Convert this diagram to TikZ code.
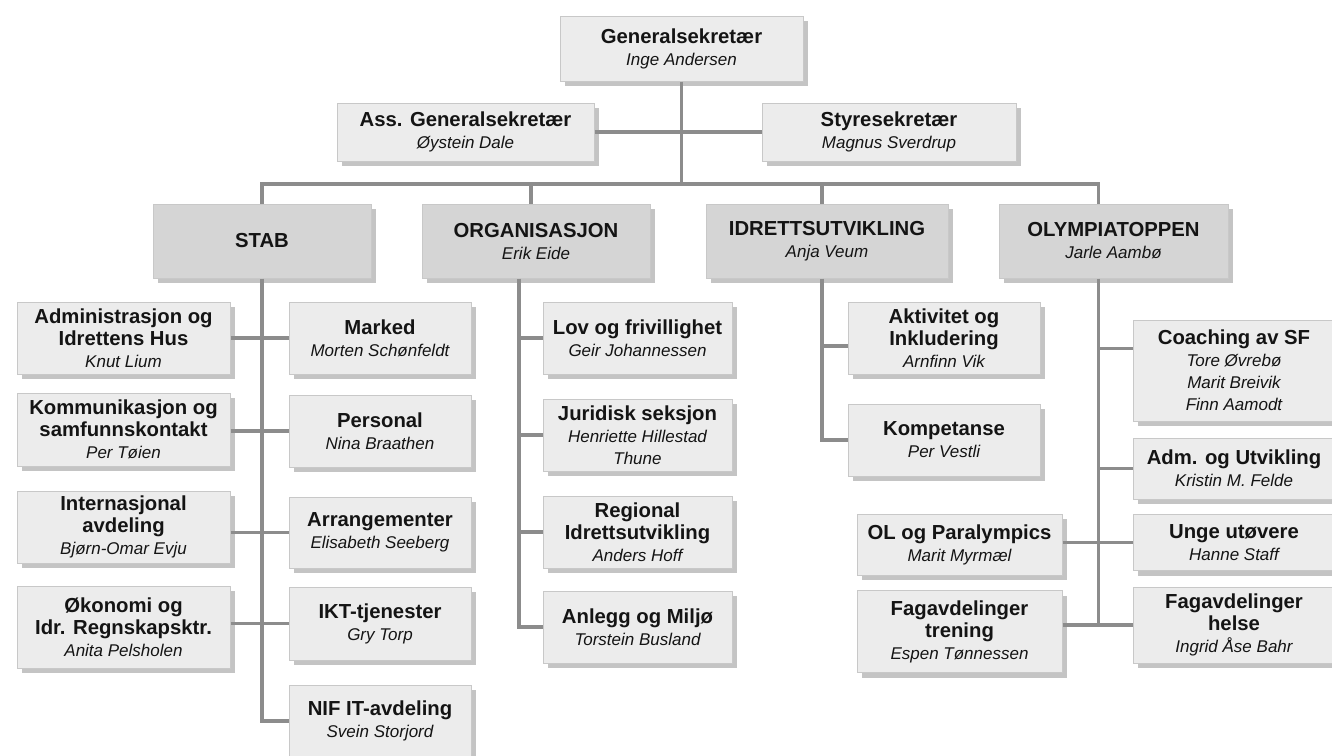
\documentclass[tikz,border=0pt]{standalone}
\usepackage{fontspec}
\setmainfont{Liberation Sans}
\usetikzlibrary{shadows}
\definecolor{boxfill}{HTML}{ECECEC}
\definecolor{deptfill}{HTML}{D5D5D5}
\definecolor{boxline}{HTML}{C8C8C8}
\definecolor{shade}{HTML}{C4C4C4}
\definecolor{linkgray}{HTML}{8C8C8C}
\newcommand\boxtitle{\fontsize{20.3}{22}\selectfont\bfseries}
\newcommand\boxname{\fontsize{17}{22}\selectfont\itshape}
\tikzset{
  unit/.style={draw=boxline, line width=1pt, fill=boxfill, align=center,
    inner sep=0pt, text=black!92, font=\fontsize{17}{22}\selectfont,
    general shadow={fill=shade, shadow xshift=5pt, shadow yshift=-5pt}},
  dept/.style={unit, fill=deptfill},
  sz/.style 2 args={minimum width=#1pt, minimum height=#2pt},
  link/.style={draw=linkgray, line width=3.5pt},
}
\begin{document}
\begin{tikzpicture}[x=1pt,y=-1pt]
\useasboundingbox (0,0) rectangle (1332,755);
% ledelse
\node[unit,sz={243}{65}] (gs) at (681.5,48.5) {\boxtitle Generalsekretær\\\boxname Inge Andersen};
\node[unit,sz={257}{58}] (ass) at (465.5,132) {\boxtitle Ass. Generalsekretær\\\boxname Øystein Dale};
\node[unit,sz={254}{58}] (sty) at (889,132) {\boxtitle Styresekretær\\\boxname Magnus Sverdrup};
% avdelinger
\node[dept,sz={218}{74}] (stab) at (262,241) {\boxtitle STAB};
\node[dept,sz={228}{74}] (org) at (536,241) {\boxtitle ORGANISASJON\\\boxname Erik Eide};
\node[dept,sz={242}{74}] (idr) at (827,241) {\boxtitle IDRETTSUTVIKLING\\\boxname Anja Veum};
\node[dept,sz={229}{74}] (oly) at (1113.5,241) {\boxtitle OLYMPIATOPPEN\\\boxname Jarle Aambø};
% stab
\node[unit,sz={213}{72}] (adm) at (123.5,338) {\boxtitle Administrasjon og\\\boxtitle Idrettens Hus\\\boxname Knut Lium};
\node[unit,sz={213}{73}] (kom) at (123.5,429.5) {\boxtitle Kommunikasjon og\\\boxtitle samfunnskontakt\\\boxname Per Tøien};
\node[unit,sz={213}{72}] (int) at (123.5,527) {\boxtitle Internasjonal\\\boxtitle avdeling\\\boxname Bjørn-Omar Evju};
\node[unit,sz={213}{82}] (oko) at (123.5,627) {\boxtitle Økonomi og\\\boxtitle Idr. Regnskapsktr.\\\boxname Anita Pelsholen};
\node[unit,sz={182}{72}] (mark) at (380,338) {\boxtitle Marked\\\boxname Morten Schønfeldt};
\node[unit,sz={182}{72}] (pers) at (380,431) {\boxtitle Personal\\\boxname Nina Braathen};
\node[unit,sz={182}{71}] (arr) at (380,532.5) {\boxtitle Arrangementer\\\boxname Elisabeth Seeberg};
\node[unit,sz={182}{73}] (ikt) at (380,623.5) {\boxtitle IKT-tjenester\\\boxname Gry Torp};
\node[unit,sz={182}{72}] (nif) at (380,721) {\boxtitle NIF IT-avdeling\\\boxname Svein Storjord};
% organisasjon
\node[unit,sz={189}{72}] (lov) at (637.5,338) {\boxtitle Lov og frivillighet\\\boxname Geir Johannessen};
\node[unit,sz={189}{72}] (jur) at (637.5,435) {\boxtitle Juridisk seksjon\\\boxname Henriette Hillestad\\\boxname Thune};
\node[unit,sz={189}{72}] (reg) at (637.5,532) {\boxtitle Regional\\\boxtitle Idrettsutvikling\\\boxname Anders Hoff};
\node[unit,sz={189}{72}] (anl) at (637.5,627) {\boxtitle Anlegg og Miljø\\\boxname Torstein Busland};
% idrettsutvikling
\node[unit,sz={192}{72}] (akt) at (944,338) {\boxtitle Aktivitet og\\\boxtitle Inkludering\\\boxname Arnfinn Vik};
\node[unit,sz={192}{72}] (komp) at (944,440) {\boxtitle Kompetanse\\\boxname Per Vestli};
% olympiatoppen
\node[unit,sz={202}{101}] (coach) at (1234,370.5) {\boxtitle Coaching av SF\\\boxname Tore Øvrebø\\\boxname Marit Breivik\\\boxname Finn Aamodt};
\node[unit,sz={202}{61}] (admu) at (1234,468.5) {\boxtitle Adm. og Utvikling\\\boxname Kristin M. Felde};
\node[unit,sz={202}{56}] (unge) at (1234,542.5) {\boxtitle Unge utøvere\\\boxname Hanne Staff};
\node[unit,sz={202}{76}] (helse) at (1234,625) {\boxtitle Fagavdelinger\\\boxtitle helse\\\boxname Ingrid Åse Bahr};
\node[unit,sz={205}{61}] (ol) at (959.5,544.5) {\boxtitle OL og Paralympics\\\boxname Marit Myrmæl};
\node[unit,sz={205}{82}] (tren) at (959.5,631.5) {\boxtitle Fagavdelinger\\\boxtitle trening\\\boxname Espen Tønnessen};
% linjer
\coordinate (bus) at (681.5,184);
\coordinate (orgdown) at ([xshift=-17pt]org.south);
\coordinate (olydown) at ([xshift=-15pt]oly.south);
\draw[link] (gs.south) -- (bus);
\draw[link] (ass.east) -- (sty.west);
\draw[link] (stab.north) |- (bus) -| ([xshift=-15pt]oly.north);
\foreach \d in {org,idr}
\draw[link] ([xshift=-5pt]\d.north) -- ([xshift=-5pt]\d.north |- bus);
\draw[link] (stab.south) |- (nif.west);
\foreach \l/\r in {adm/mark,kom/pers,int/arr,oko/ikt}
\draw[link] (\r.west -| \l.east) -- (\r.west);
\draw[link] (orgdown) |- (anl.west);
\foreach \s in {lov,jur,reg}
\draw[link] (\s.west) -- (\s.west -| orgdown);
\draw[link] ([xshift=-5pt]idr.south) |- (komp.west);
\draw[link] ([yshift=-8pt]akt.west) -- ++(-26,0);
\draw[link] (olydown) -- (olydown |- helse.west);
\draw[link] ([yshift=22pt]coach.west) -- ++(-36,0);
\draw[link] (admu.west) -- (admu.west -| olydown);
\foreach \l/\r in {ol/unge,tren/helse}
\draw[link] (\r.west -| \l.east) -- (\r.west);
\end{tikzpicture}
\end{document}
